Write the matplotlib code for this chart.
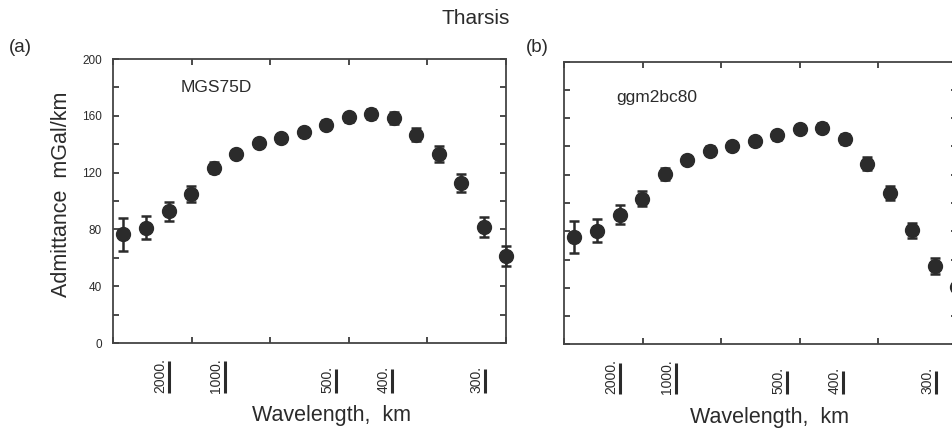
import numpy as np
import matplotlib
matplotlib.use("Agg")
import matplotlib.pyplot as plt
import matplotlib.transforms as mtransforms

plt.rcParams['font.family'] = ['Liberation Sans', 'DejaVu Sans']

# spherical harmonic degree of each admittance estimate
degree = [2, 6.3, 10.6, 14.9, 19.2, 23.5, 27.8, 32.1, 36.4, 40.7,
          45, 49.3, 53.6, 57.9, 62.2, 66.5, 70.8, 75]

# MGS75D admittance and errors (mGal/km)
mgs_adm = [76.6, 81.3, 92.8, 104.8, 123.4, 133.2, 141.0, 144.5, 148.5, 153.7,
           158.9, 161.2, 158.4, 146.6, 133.0, 112.4, 81.6, 61.3]
mgs_err = [11.5, 8.2, 6.6, 5.5, 4.0, 3.0, 3.0, 3.0, 3.0, 3.0,
           3.0, 3.5, 4.0, 4.5, 5.6, 6.3, 7.0, 7.0]

# ggm2bc80 admittance and errors (mGal/km)
ggm_adm = [75.9, 80.4, 91.7, 103.0, 120.5, 130.4, 137.0, 140.3, 143.9, 147.9,
           152.4, 153.3, 145.3, 127.8, 106.9, 80.7, 55.6, 40.8]
ggm_err = [11.6, 8.0, 6.8, 5.4, 4.0, 3.0, 3.0, 3.0, 3.0, 3.0,
           3.0, 3.0, 3.5, 4.5, 5.0, 5.2, 5.7, 6.0]

# wavelength labels (km)
wavelengths = [2000, 1000, 500, 400, 300]
mars_radius = 3390.0

col = "#2b2b2b"

fig = plt.figure(figsize=(9.53, 4.30), dpi=100)
ax1 = fig.add_axes([113/953, 87/430, 393/953, 284/430])
ax2 = fig.add_axes([564/953, 85.7/430, 393/953, 282.6/430])


def draw_panel(ax, adm, err, name, name_xy, show_ylabels):
    ax.errorbar(degree, adm, yerr=err, fmt='o', color=col, ms=10,
                elinewidth=1.8, capsize=3.5, capthick=1.8, clip_on=False, zorder=3)
    ax.set_xlim(0, 75)
    ax.set_ylim(0, 200)
    ax.set_xticks([0, 15, 30, 45, 60, 75])
    ax.set_xticklabels([])
    ax.set_yticks(np.arange(0, 201, 20))
    if show_ylabels:
        ax.set_yticklabels(["0", "", "40", "", "80", "", "120", "", "160", "", "200"])
    else:
        ax.set_yticklabels([])
    ax.tick_params(direction='in', length=4, width=1.2, colors=col,
                   top=True, right=True, labelsize=8.5, pad=8)
    for s in ax.spines.values():
        s.set_color("#444444")
        s.set_linewidth(1.3)
    ax.text(name_xy[0], name_xy[1], name, transform=ax.transAxes,
            fontsize=12.5, color=col, va='center', ha='left')

    # underlined, rotated wavelength labels below the axis
    trans = mtransforms.blended_transform_factory(ax.transData, ax.transAxes)
    h = ax.get_position().height * 430
    for w in wavelengths:
        xl = 2 * np.pi * mars_radius / w
        ax.annotate(f"{w}.", xy=(xl, -50/h), xycoords=trans,
                    xytext=(-1.0, 0), textcoords='offset points',
                    rotation=90, ha='right', va='bottom', fontsize=10,
                    color=col, annotation_clip=False)
        nd = len(str(w))
        ax.plot([xl, xl], [-50/h, (-50 + 7.9*nd)/h], transform=trans,
                color=col, lw=2.2, clip_on=False, solid_capstyle='butt')


draw_panel(ax1, mgs_adm, mgs_err, "MGS75D", ((181-113)/393, (343-87.7)/284), True)
draw_panel(ax2, ggm_adm, ggm_err, "ggm2bc80", ((616.7-564)/393, (344.3-98)/282.6), False)

fig.text(476/953, 1 - 18/430, "Tharsis", ha='center', va='center', fontsize=15, color=col)
fig.text(20/953, 1 - 48/430, "(a)", ha='center', va='center', fontsize=13.5, color=col)
fig.text(537/953, 1 - 48/430, "(b)", ha='center', va='center', fontsize=13.5, color=col)
fig.text(62/953, 1 - 194/430, "Admittance  mGal/km", rotation=90,
         ha='center', va='center', fontsize=15.5, color=col)
fig.text(332/953, 1 - 415/430, "Wavelength,  km", ha='center', va='center',
         fontsize=15.5, color=col)
fig.text(770/953, 1 - 417/430, "Wavelength,  km", ha='center', va='center',
         fontsize=15.5, color=col)

fig.savefig("out.png", dpi=100)
